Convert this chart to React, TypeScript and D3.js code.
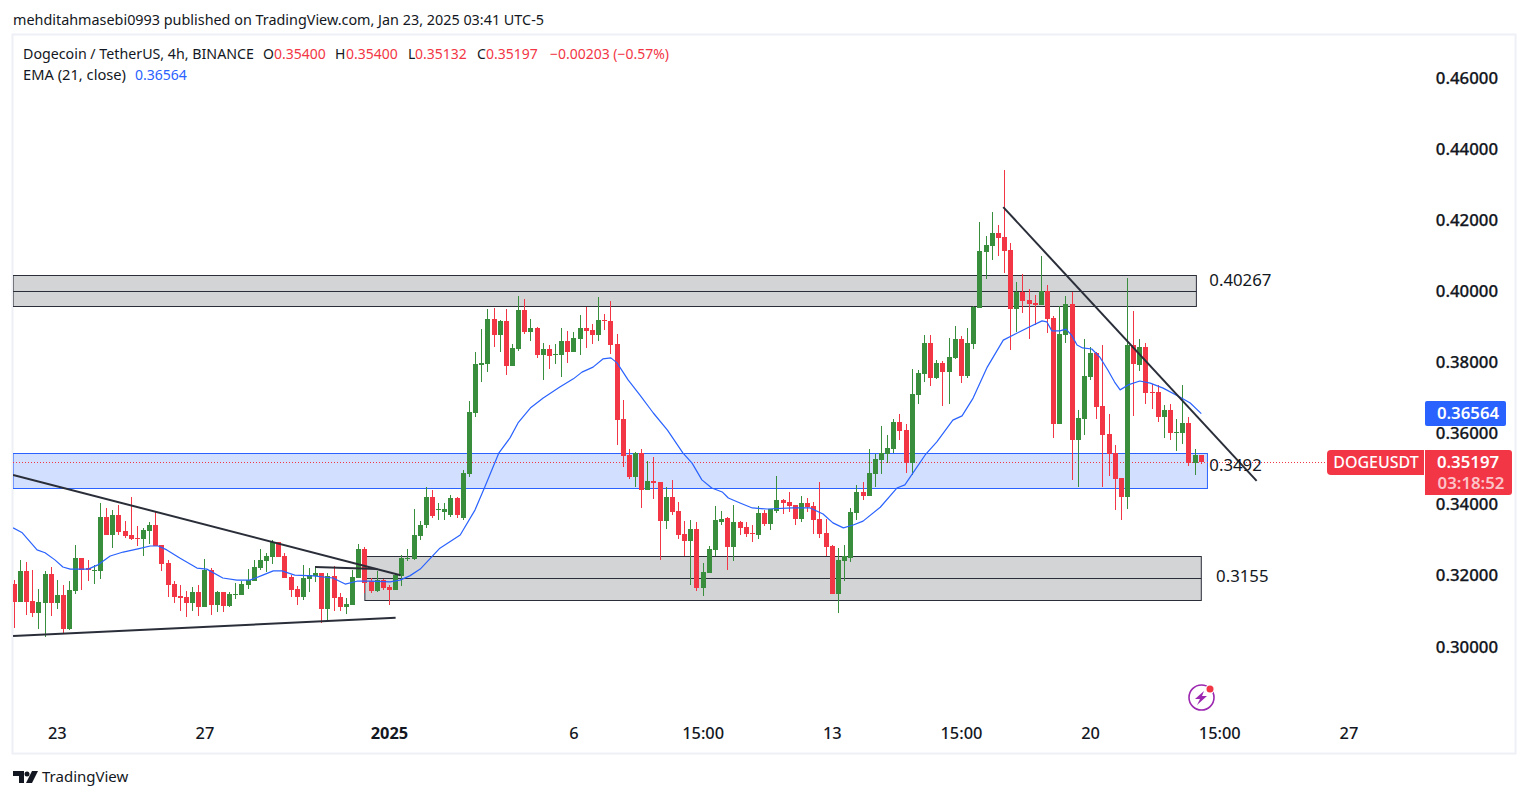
import React from "react";
import * as d3 from "d3";

const W = 1529, H = 798;
const FONT = "'Noto Sans', sans-serif";
const UP = "#388e3c", DOWN = "#f23645", BLUE = "#2962ff", INK = "#131722", LINE = "#2a2e39";

const directions =
  "DUDDUUDUDU" + "UDDUUDUDDD" + "DUUDDDDDDU" + "DUDUDUUUUU" + "UUUDDDDUUU" +
  "DUDDUUUDDU" + "DDUUUUUUDU" + "UUDUUUUUDU" + "DUUDUDUDUU" + "DUUDDUDDDD" +
  "DUDUDDUDDD" + "UDUUUUDUDD" + "DUDUUDDDUD" + "DDDDUUUUDU" + "UUUUDDUUUD" +
  "UDUUDUUUUU" + "DDDUDDDUDD" + "UUDUUUDDDD" + "DUDUDDDUDU" + "UDUD";

const highs = [
  .3188,.3245,.3239,.3217,.3163,.3214,.3225,.3188,.3174,.3185,
  .3287,.3250,.3245,.3231,.3405,.3391,.3385,.3399,.3354,.3422,
  .3340,.3334,.3351,.3380,.3287,.3245,.3185,.3174,.3157,.3169,
  .3174,.3248,.3222,.3157,.3155,.3155,.3180,.3185,.3219,.3245,
  .3276,.3265,.3301,.3296,.3265,.3202,.3171,.3231,.3222,.3228,
  .3208,.3208,.3228,.3152,.3138,.3217,.3290,.3281,.3194,.3214,
  .3191,.3174,.3206,.3259,.3276,.3388,.3354,.3450,.3441,.3405,
  .3405,.3427,.3422,.3498,.3692,.3829,.3894,.3950,.3953,.3920,
  .3950,.3852,.3987,.3979,.3922,.3900,.3855,.3849,.3852,.3897,
  .3889,.3886,.3934,.3956,.3908,.3984,.3936,.3973,.3880,.3695,
  .3557,.3549,.3557,.3523,.3534,.3464,.3450,.3470,.3408,.3354,
  .3357,.3351,.3236,.3284,.3396,.3382,.3366,.3399,.3354,.3351,
  .3343,.3396,.3385,.3388,.3481,.3416,.3436,.3399,.3425,.3419,
  .3408,.3464,.3360,.3287,.3278,.3287,.3391,.3456,.3464,.3557,
  .3543,.3621,.3596,.3641,.3655,.3627,.3782,.3779,.3877,.3877,
  .3807,.3804,.3869,.3903,.3875,.3897,.3959,.4195,.4156,.4223,
  .4187,.4341,.4136,.4026,.4049,.4007,.3990,.4100,.4018,.3931,
  .3959,.3987,.3998,.3666,.3866,.3843,.3829,.3849,.3655,.3568,
  .3475,.4038,.3945,.3866,.3855,.3740,.3737,.3680,.3683,.3641,
  .3737,.3647,.3557,.35400,
];

const bodyTops = [
  .3177,.3214,.3214,.3129,.3127,.3206,.3206,.3146,.3146,.3160,
  .3250,.3250,.3222,.3217,.3366,.3366,.3371,.3371,.3326,.3315,
  .3306,.3329,.3343,.3343,.3287,.3236,.3177,.3143,.3141,.3155,
  .3155,.3217,.3217,.3155,.3155,.3149,.3149,.3177,.3188,.3225,
  .3245,.3256,.3296,.3296,.3256,.3197,.3163,.3194,.3202,.3208,
  .3208,.3200,.3200,.3141,.3121,.3197,.3276,.3276,.3185,.3188,
  .3188,.3169,.3202,.3250,.3250,.3315,.3343,.3422,.3422,.3388,
  .3388,.3419,.3419,.3489,.3661,.3796,.3799,.3922,.3922,.3917,
  .3917,.3841,.3948,.3948,.3897,.3897,.3838,.3838,.3824,.3860,
  .3860,.3869,.3897,.3897,.3891,.3920,.3920,.3917,.3852,.3641,
  .3540,.3546,.3546,.3467,.3467,.3464,.3422,.3422,.3382,.3318,
  .3332,.3332,.3211,.3276,.3357,.3360,.3363,.3351,.3351,.3337,
  .3320,.3377,.3377,.3388,.3413,.3413,.3408,.3399,.3405,.3405,
  .3396,.3360,.3320,.3284,.3245,.3256,.3380,.3436,.3436,.3489,
  .3529,.3546,.3560,.3633,.3633,.3610,.3712,.3771,.3855,.3855,
  .3799,.3799,.3815,.3866,.3866,.3855,.3956,.4114,.4131,.4164,
  .4164,.4153,.4116,.3998,.3998,.3976,.3967,.4001,.4001,.3925,
  .3880,.3965,.3965,.3644,.3762,.3827,.3827,.3678,.3599,.3546,
  .3475,.3849,.3849,.3843,.3843,.3717,.3717,.3666,.3666,.3605,
  .3630,.3630,.3540,.35400,
];

const bodyBottoms = [
  .3127,.3127,.3127,.3096,.3096,.3124,.3124,.3124,.3051,.3051,
  .3157,.3217,.3217,.3214,.3214,.3315,.3315,.3323,.3312,.3304,
  .3304,.3304,.3326,.3284,.3234,.3174,.3141,.3138,.3124,.3124,
  .3113,.3113,.3118,.3118,.3115,.3115,.3146,.3146,.3174,.3185,
  .3222,.3242,.3253,.3253,.3194,.3160,.3141,.3141,.3191,.3200,
  .3107,.3107,.3138,.3113,.3113,.3118,.3194,.3180,.3157,.3157,
  .3166,.3160,.3160,.3200,.3248,.3248,.3312,.3343,.3368,.3385,
  .3380,.3371,.3371,.3363,.3486,.3658,.3793,.3796,.3877,.3877,
  .3790,.3790,.3838,.3886,.3886,.3821,.3821,.3818,.3821,.3821,
  .3829,.3829,.3866,.3889,.3877,.3877,.3917,.3849,.3638,.3537,
  .3478,.3478,.3441,.3441,.3461,.3354,.3354,.3380,.3315,.3298,
  .3298,.3166,.3166,.3208,.3273,.3351,.3281,.3281,.3334,.3318,
  .3318,.3315,.3346,.3346,.3382,.3405,.3396,.3360,.3360,.3393,
  .3357,.3318,.3281,.3149,.3149,.3242,.3250,.3377,.3425,.3425,
  .3486,.3526,.3543,.3557,.3607,.3517,.3517,.3709,.3768,.3756,
  .3756,.3773,.3773,.3813,.3762,.3762,.3852,.3953,.4111,.4128,
  .4150,.4114,.3950,.3950,.3973,.3965,.3962,.3962,.3922,.3627,
  .3627,.3877,.3582,.3582,.3641,.3759,.3675,.3596,.3543,.3472,
  .3422,.3422,.3796,.3793,.3715,.3715,.3647,.3647,.3602,.3602,
  .3602,.3517,.3517,.35197,
];

const lows = [
  .3053,.3127,.3090,.3085,.3051,.3028,.3087,.3107,.3040,.3048,
  .3149,.3160,.3185,.3177,.3191,.3315,.3278,.3315,.3306,.3301,
  .3284,.3256,.3290,.3284,.3214,.3141,.3124,.3101,.3085,.3101,
  .3087,.3113,.3090,.3099,.3099,.3113,.3135,.3146,.3163,.3185,
  .3217,.3211,.3234,.3253,.3194,.3141,.3118,.3132,.3155,.3183,
  .3068,.3073,.3101,.3101,.3093,.3118,.3194,.3152,.3152,.3155,
  .3160,.3118,.3160,.3171,.3242,.3245,.3301,.3334,.3363,.3357,
  .3357,.3366,.3363,.3357,.3478,.3647,.3745,.3773,.3843,.3829,
  .3765,.3790,.3832,.3880,.3860,.3813,.3751,.3782,.3796,.3759,
  .3799,.3829,.3821,.3841,.3852,.3860,.3891,.3824,.3568,.3506,
  .3472,.3450,.3391,.3441,.3416,.3245,.3332,.3371,.3304,.3256,
  .3174,.3157,.3143,.3208,.3256,.3343,.3217,.3242,.3315,.3309,
  .3295,.3304,.3340,.3329,.3377,.3374,.3380,.3343,.3351,.3380,
  .3318,.3306,.3256,.3149,.3096,.3185,.3239,.3357,.3413,.3425,
  .3450,.3486,.3517,.3546,.3582,.3489,.3484,.3683,.3745,.3734,
  .3754,.3678,.3683,.3810,.3742,.3756,.3838,.3953,.4035,.4088,
  .4100,.4052,.3835,.3886,.3939,.3866,.3906,.3962,.3883,.3588,
  .3627,.3855,.3470,.3450,.3596,.3751,.3641,.3450,.3481,.3385,
  .3357,.3388,.3650,.3776,.3683,.3669,.3633,.3588,.3582,.3551,
  .3571,.3509,.3484,.35132,
];

const emaBars = [
  -0.2,1.3,3.7,5,6.6,7.9,9.1,12,13.6,15.6,17.7,20.1,22.1,23.4,24.8,26.9,29.7,31.3,33.9,36.2,
  38.3,40.4,42.1,43.5,45.6,48.6,51.8,53.8,55.7,57.8,61.1,62.7,64.3,66,69.2,72.5,74.9,76.5,78.8,80.6,
  81.9,83.9,86,88.7,90.9,92.3,94.1,95.7,97,98,99.8,101.7,103.9,106.2,108.7,110.2,111.8,113.4,115.1,116.1,
  118,120,122.4,126.6,129.4,131.5,133.1,134.8,136.4,138,140.8,143.5,144.8,146.1,148.1,150,152.6,154.1,155.9,158.2,
  160.8,164.7,167.1,167.9,168.7,170,171,171.9,172.8,173.7,175.2,176.5,177.8,178.9,179.8,181.1,183,184.7,186.8,189.5,
  191.2,193,
];
const emaValues = [
  .3335,.3321,.3273,.3265,.3245,.3225,.3219,.3219,.3231,.3256,.3267,.3276,.3284,.3284,.3273,.3250,.3222,.3219,.3194,.3188,
  .3188,.3202,.3214,.3214,.3202,.3200,.3194,.3177,.3185,.3185,.3183,.3188,.3200,.3219,.3278,.3315,.3385,.3450,.3546,.3588,
  .3630,.3672,.3700,.3731,.3754,.3773,.3787,.3810,.3813,.3799,.3751,.3709,.3658,.3610,.3546,.3517,.3470,.3447,.3436,.3419,
  .3405,.3391,.3388,.3391,.3391,.3374,.3349,.3335,.3343,.3354,.3393,.3447,.3456,.3489,.3540,.3577,.3638,.3650,.3700,.3787,
  .3863,.3897,.3917,.3914,.3889,.3889,.3894,.3877,.3849,.3841,.3838,.3815,.3779,.3745,.3723,.3737,.3748,.3742,.3728,.3703,
  .3686,.36564,
];

const priceTicks = [0.30, 0.32, 0.34, 0.36, 0.38, 0.40, 0.42, 0.44, 0.46];
const timeTicks = [
  { bar: 7, label: "23" }, { bar: 31, label: "27" }, { bar: 61, label: "2025", strong: true },
  { bar: 91, label: "6" }, { bar: 112, label: "15:00" }, { bar: 133, label: "13" },
  { bar: 154, label: "15:00" }, { bar: 175, label: "20" }, { bar: 196, label: "15:00" }, { bar: 217, label: "27" },
];

const zones = [
  { from: -0.2, to: 192.2, top: .4046, mid: .4001, bottom: .3959, fill: "#d3d4d6", stroke: LINE },
  { from: 57, to: 193, top: .3255, mid: .3194, bottom: .3132, fill: "#d3d4d6", stroke: LINE },
];
const blueZone = { from: -0.2, to: 194, top: .3546, bottom: .3447 };
const trendLines = [
  { b1: -0.2, p1: .3484, b2: 62.8, p2: .3202 },
  { b1: -0.2, p1: .3031, b2: 62, p2: .3082 },
  { b1: 48.9, p1: .3225, b2: 59, p2: .3219 },
  { b1: 160.8, p1: .4237, b2: 202, p2: .3467 },
];
const zoneLabels = [
  { bar: 194.3, price: .4015, text: "0.40267" },
  { bar: 194.3, price: .3494, text: "0.3492" },
  { bar: 195.4, price: .3184, text: "0.3155" },
];

export default function App() {
  const x = d3.scaleLinear().domain([0, 193]).range([14.3, 1201.3]);
  const y = d3.scaleLinear().domain([0.30, 0.46]).range([647, 78]);
  const ema = d3.line<number>().x((_, i) => x(emaBars[i])).y((v) => y(v))(emaValues) || "";
  const lastY = y(bodyBottoms[bodyBottoms.length - 1]);
  const emaY = y(emaValues[emaValues.length - 1]);

  return (
    <svg width={W} height={H} viewBox={`0 0 ${W} ${H}`}
      style={{ position: "absolute", left: 0, top: 0, display: "block", background: "#fff" }}
      fontFamily={FONT}>
      <defs>
        <clipPath id="pane"><rect x={13} y={35} width={1502} height={718} /></clipPath>
      </defs>

      <text x={13} y={24.5} fontSize={14} fill={INK} textLength={531} lengthAdjust="spacingAndGlyphs">
        mehditahmasebi0993 published on TradingView.com, Jan 23, 2025 03:41 UTC-5
      </text>

      <rect x={12.5} y={34.5} width={1503} height={719} fill="none" stroke="#eef0f6" strokeWidth={2} />

      <g clipPath="url(#pane)">
        {zones.map((z, i) => (
          <g key={i}>
            <rect x={Math.max(x(z.from), 13)} y={Math.round(y(z.top)) + 0.5} width={x(z.to) - Math.max(x(z.from), 13)}
              height={Math.round(y(z.bottom)) - Math.round(y(z.top))} fill={z.fill} stroke={z.stroke} strokeWidth={1} />
            <line x1={Math.max(x(z.from), 13)} x2={x(z.to)} y1={Math.round(y(z.mid)) + 0.5} y2={Math.round(y(z.mid)) + 0.5}
              stroke={z.stroke} strokeWidth={1} />
          </g>
        ))}
        <rect x={x(blueZone.from)} y={Math.round(y(blueZone.top)) + 0.5} width={x(blueZone.to) - x(blueZone.from)}
          height={Math.round(y(blueZone.bottom)) - Math.round(y(blueZone.top))} fill="#d2dffe" stroke={BLUE} strokeWidth={1} />

        <line x1={13} x2={1328} y1={Math.round(lastY) + 0.5} y2={Math.round(lastY) + 0.5} stroke={DOWN} strokeWidth={1} strokeDasharray="1 2" />

        {highs.map((h, i) => {
          const cx = Math.floor(x(i));
          const col = directions[i] === "U" ? UP : DOWN;
          const t = Math.round(y(bodyTops[i]));
          const b = Math.round(y(bodyBottoms[i]));
          return (
            <g key={i} fill={col} shapeRendering="crispEdges">
              <rect x={cx} y={Math.round(y(h))} width={1} height={Math.max(1, Math.round(y(lows[i])) - Math.round(y(h)))} />
              <rect x={cx - 2} y={t} width={5} height={Math.max(1, b - t)} />
            </g>
          );
        })}

        <path d={ema} fill="none" stroke={BLUE} strokeWidth={1.2} strokeLinejoin="round" />

        {trendLines.map((l, i) => (
          <line key={i} x1={x(l.b1)} y1={y(l.p1)} x2={x(l.b2)} y2={y(l.p2)} stroke={LINE} strokeWidth={2} />
        ))}

        {zoneLabels.map((l, i) => (
          <text key={i} x={x(l.bar)} y={y(l.price)} fontSize={16.8} fill={INK}>{l.text}</text>
        ))}
      </g>

      <text y={59} fontSize={14} fill={INK} x={23} textLength={231} lengthAdjust="spacingAndGlyphs">Dogecoin / TetherUS, 4h, BINANCE</text>
      <text y={59} fontSize={14} fill={INK} x={263}>O</text>
      <text y={59} fontSize={14} fill={DOWN} x={274}>0.35400</text>
      <text y={59} fontSize={14} fill={INK} x={335}>H</text>
      <text y={59} fontSize={14} fill={DOWN} x={346}>0.35400</text>
      <text y={59} fontSize={14} fill={INK} x={408}>L</text>
      <text y={59} fontSize={14} fill={DOWN} x={415}>0.35132</text>
      <text y={59} fontSize={14} fill={INK} x={477}>C</text>
      <text y={59} fontSize={14} fill={DOWN} x={486}>0.35197</text>
      <text y={59} fontSize={14} fill={DOWN} x={550} textLength={119} lengthAdjust="spacingAndGlyphs">−0.00203 (−0.57%)</text>
      <text y={80} fontSize={14} fill={INK} x={23} textLength={103} lengthAdjust="spacingAndGlyphs">EMA (21, close)</text>
      <text y={80} fontSize={14} fill={BLUE} x={135}>0.36564</text>

      {priceTicks.map((p) => (
        <text key={p} x={1498} y={y(p) + 5.5} textAnchor="end" fontSize={16.8} fontWeight={500} fill={INK}
          stroke={INK} strokeWidth={0.25}>
          {p.toFixed(5)}
        </text>
      ))}

      {timeTicks.map((t, i) => (
        <text key={i} x={x(t.bar)} y={739} textAnchor="middle" fontSize={16.4} fontWeight={t.strong ? 700 : 500} fill={INK}>
          {t.label}
        </text>
      ))}

      <rect x={1425} y={emaY - 12.5} width={81} height={25} rx={2} fill={BLUE} />
      <text x={1468} y={emaY + 5.5} textAnchor="middle" fontSize={16.8} fontWeight={600} fill="#fff">0.36564</text>

      <path d="M1424 450H1331a4 4 0 0 0 -4 4V471a4 4 0 0 0 4 4H1424Z" fill={DOWN} />
      <text x={1376} y={468} textAnchor="middle" fontSize={16} fontWeight={500} fill="#fff">DOGEUSDT</text>
      <path d="M1425 450H1509a3 3 0 0 1 3 3V492a3 3 0 0 1 -3 3H1425Z" fill={DOWN} />
      <text x={1468} y={lastY + 6} textAnchor="middle" fontSize={16.8} fontWeight={600} fill="#fff">0.35197</text>
      <text x={1471} y={489} textAnchor="middle" fontSize={16.8} fontWeight={600} fill="#fbc4c9">03:18:52</text>

      <g>
        <circle cx={1201.5} cy={697.5} r={12.5} fill="none" stroke="#9c27b0" strokeWidth={1.6} />
        <path d="M1204 691L1195 699H1200L1197 705L1207 696H1202Z" fill="#9c27b0" />
        <circle cx={1210} cy={689} r={4.5} fill="#fff" />
        <circle cx={1210} cy={689} r={3.5} fill={DOWN} />
      </g>

      <g fill={INK}>
        <path d="M13 771H24V783H19V776H13Z" />
        <circle cx={27} cy={774} r={2.5} />
        <path d="M32 771H38L32 783H26Z" />
      </g>
      <text x={42} y={782} fontSize={15} fill={INK}>TradingView</text>
    </svg>
  );
}
